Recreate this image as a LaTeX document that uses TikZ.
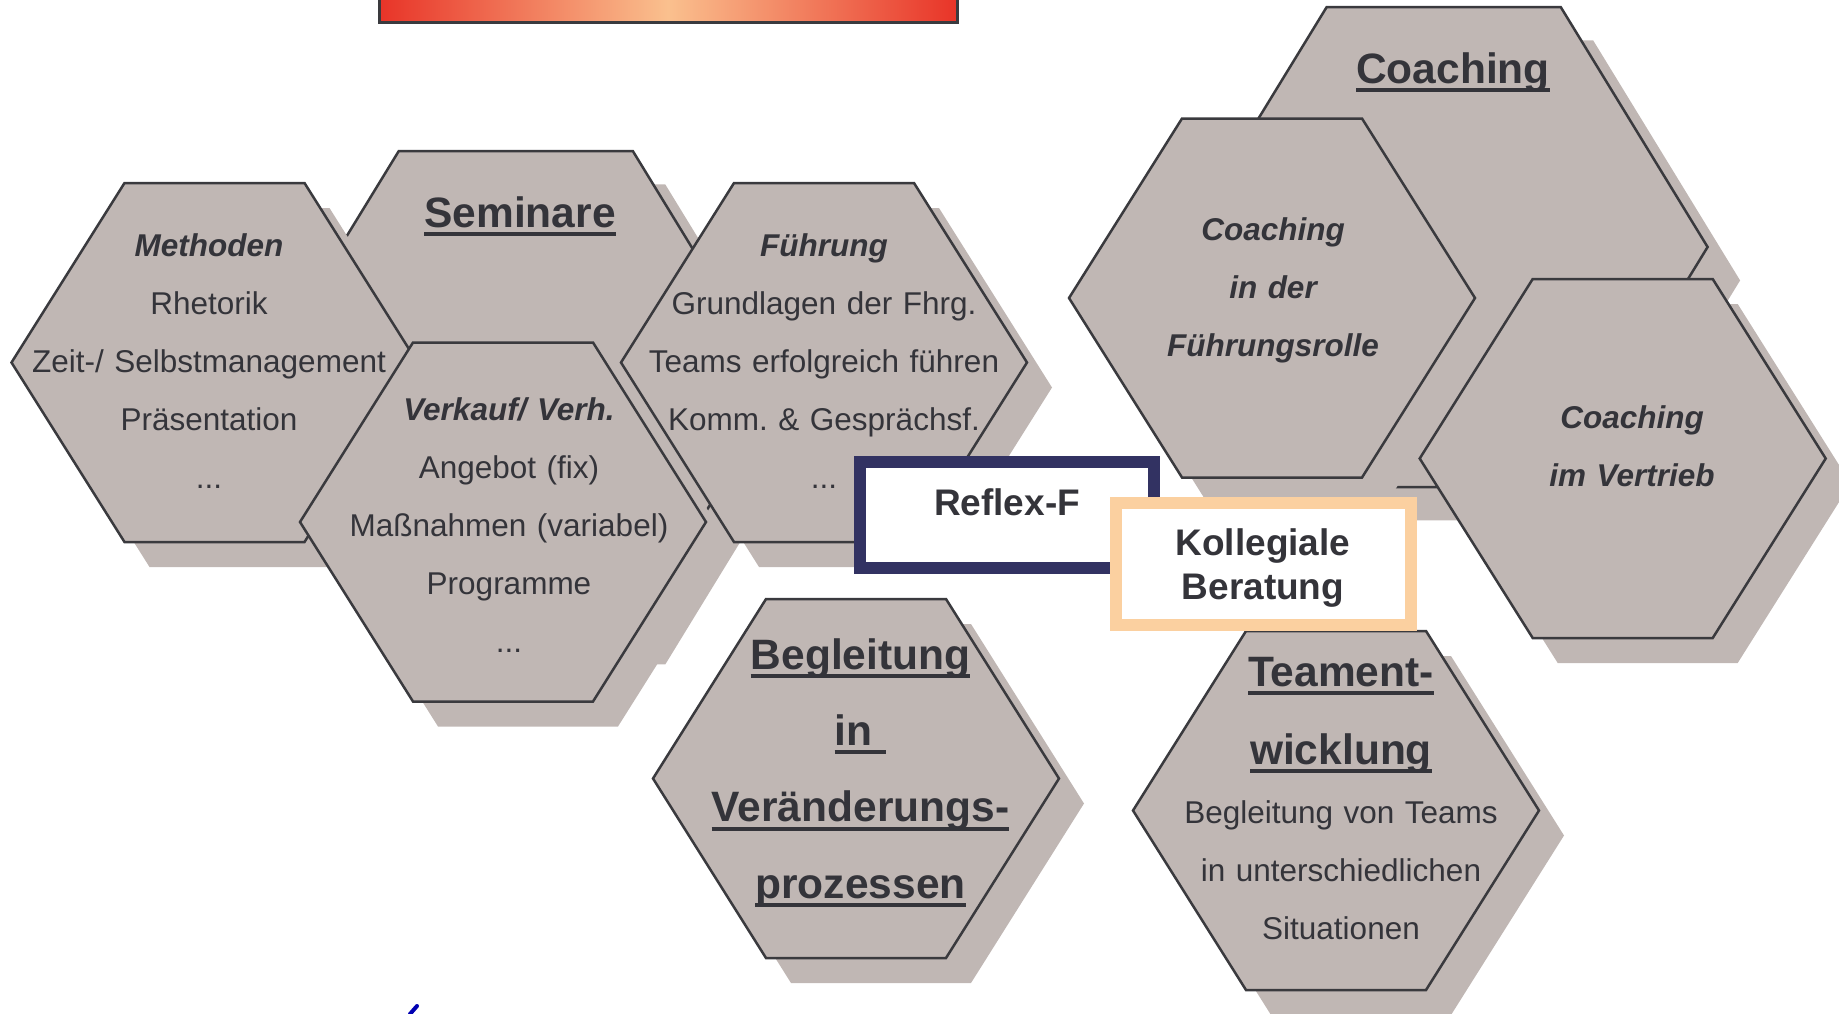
\documentclass[tikz,border=0pt]{standalone}
\usepackage{fontspec}
\setmainfont{Liberation Sans}
\frenchspacing
% underline 4.7pt to 8.7pt below the baseline
\newcommand{\uln}[1]{\leavevmode\setbox0\hbox{#1}\rlap{\vrule width\wd0 height -4.7pt depth 8.7pt}\box0}
\definecolor{hexfill}{RGB}{192,183,180}
\definecolor{hexline}{RGB}{58,58,62}
\definecolor{txtgray}{RGB}{52,52,58}
\definecolor{reflexblue}{RGB}{50,50,98}
\definecolor{peach}{RGB}{251,208,160}
\definecolor{titlered}{RGB}{232,52,40}
\definecolor{titlepeach}{RGB}{250,192,142}
\begin{document}
\begin{tikzpicture}[x=1pt,y=-1pt,
  hexshadow/.style={fill=hexfill},
  hexbody/.style={fill=hexfill,draw=hexline,line width=2.5pt},
  body/.style={anchor=base,inner sep=0pt,text width=420pt,align=center,text=txtgray,font=\fontsize{31.5}{58}\selectfont},
  heading/.style={body,font=\fontsize{42.5}{77}\selectfont\bfseries},
  boxtext/.style={body,font=\fontsize{37}{44}\selectfont\bfseries}]
\useasboundingbox (0,0) rectangle (1839,1013);
\clip (0,0) rectangle (1839,1013);
% hexagons, back to front
\foreach \cx/\cy/\kx/\ky in {515.8/391/1.3/1.337, 1443.7/247/1.3/1.337,
    214.5/362.5/1/1, 503/522/1/1, 824/362.5/1/1, 856/778.5/1/1,
    1272/298/1/1, 1622.7/458.5/1/1, 1336/810.5/1/1}{
  \begin{scope}[shift={(\cx,\cy)},xscale=\kx,yscale=\ky]
    \fill[hexshadow] (-178,25) -- (-65,-154.5) -- (115,-154.5) -- (228,25) -- (115,204.5) -- (-65,204.5) -- cycle;
    \filldraw[hexbody] (-203,0) -- (-90,-179.5) -- (90,-179.5) -- (203,0) -- (90,179.5) -- (-90,179.5) -- cycle;
  \end{scope}
}
% texts
\node[heading] (seminare) at (520,227) {\uln{Seminare}};
\node[heading] (coaching) at (1453,83) {\uln{Coaching}};
\node[body] (methoden) at (209,256) {\textbf{\textit{Methoden}}\\Rhetorik\\Zeit-/ Selbstmanagement\\Präsentation\\...};
\node[body] (fuehrung) at (824,256) {\textbf{\textit{Führung}}\\Grundlagen der Fhrg.\\Teams erfolgreich führen\\Komm. \& Gesprächsf.\\...};
\node[body] (verkauf) at (509,420) {\textbf{\textit{Verkauf/ Verh.}}\\Angebot (fix)\\Maßnahmen (variabel)\\Programme\\...};
\node[heading,font=\fontsize{42.5}{76.3}\selectfont\bfseries] (begleitung) at (860.5,669.3) {\uln{Begleitung}\\\uln{in\ }\\\uln{Veränderungs-}\\\uln{prozessen}};
\node[body,font=\fontsize{31.5}{58}\selectfont\bfseries\itshape] (rolle) at (1273,240) {Coaching\\in der\\Führungsrolle};
\node[body,font=\fontsize{31.5}{58}\selectfont\bfseries\itshape] (vertrieb) at (1632,428.3) {Coaching\\im Vertrieb};
\node[heading,font=\fontsize{42.5}{78}\selectfont\bfseries] (teament) at (1341,686) {\uln{Teament-}\\\uln{wicklung}};
\node[body] (teams) at (1341,823.3) {Begleitung von Teams\\in unterschiedlichen\\Situationen};
% boxes
\draw[fill=white,draw=reflexblue,line width=12.5pt] (860,462) rectangle (1154,568);
\node[boxtext] (reflex) at (1007,515) {Reflex-F};
\draw[fill=white,draw=peach,line width=12pt] (1116,503.3) rectangle (1410.8,625);
\node[boxtext] (kollegial) at (1263,555) {Kollegiale\\Beratung};
% title bar, cut off at the top
\shade[left color=titlered,right color=titlered,middle color=titlepeach] (379,-10) rectangle (957,22);
\draw[hexline,line width=3pt] (379,-10) rectangle (957,22);
% blue mark at the bottom
\draw[blue!70!black,line width=4pt,line cap=round] (410,1014) -- (417,1006);
\end{tikzpicture}
\end{document}
